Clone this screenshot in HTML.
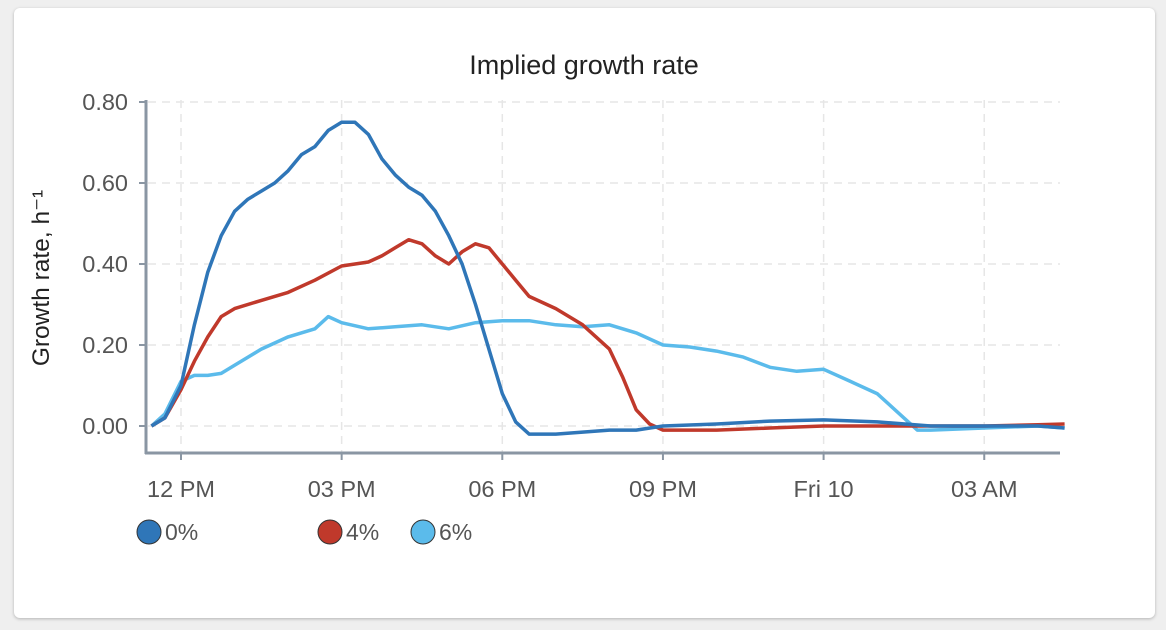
<!DOCTYPE html>
<html><head><meta charset="utf-8"><style>
html,body{margin:0;padding:0;background:#efefef;}
body{width:1166px;height:630px;position:relative;overflow:hidden;font-family:"Liberation Sans",sans-serif;}
#card{position:absolute;left:14px;top:8px;width:1141px;height:610px;background:#fff;border-radius:6px;box-shadow:0 1px 3px rgba(0,0,0,0.25);}
svg{position:absolute;left:0;top:0;}
</style></head><body>
<div id="card"></div>
<svg id="chart" width="1166" height="630"></svg>
<script>
const xTickLabels=["12 PM","03 PM","06 PM","09 PM","Fri 10","03 AM"];
const xTickHours=[0,3,6,9,12,15];
const yTicks=[0,0.2,0.4,0.6,0.8];
const seriesNames=["0%","4%","6%"];
const hours0=[-0.55,-0.3,0,0.25,0.5,0.75,1,1.25,1.5,1.75,2,2.25,2.5,2.75,3,3.25,3.5,3.75,4,4.25,4.5,4.75,5,5.25,5.5,5.75,6,6.25,6.5,7,7.5,8,8.5,9,10,11,12,13,14,15,16,16.5];
const values0=[0,0.02,0.1,0.25,0.38,0.47,0.53,0.56,0.58,0.6,0.63,0.67,0.69,0.73,0.75,0.75,0.72,0.66,0.62,0.59,0.57,0.53,0.47,0.40,0.30,0.19,0.08,0.01,-0.02,-0.02,-0.015,-0.01,-0.01,0,0.005,0.012,0.015,0.01,0,0,0,-0.005];
const hours4=[-0.55,-0.3,0,0.25,0.5,0.75,1,1.5,2,2.5,3,3.5,3.75,4,4.25,4.5,4.75,5,5.25,5.5,5.75,6,6.25,6.5,7,7.5,8,8.25,8.5,8.75,9,10,11,12,13,14,15,16,16.5];
const values4=[0,0.02,0.09,0.16,0.22,0.27,0.29,0.31,0.33,0.36,0.395,0.405,0.42,0.44,0.46,0.45,0.42,0.40,0.43,0.45,0.44,0.40,0.36,0.32,0.29,0.25,0.19,0.12,0.04,0.005,-0.01,-0.01,-0.005,0,0,0,0,0.003,0.005];
const hours6=[-0.55,-0.3,0,0.25,0.5,0.75,1,1.5,2,2.5,2.75,3,3.5,4,4.5,5,5.5,6,6.5,7,7.5,8,8.5,9,9.5,10,10.5,11,11.5,12,12.5,13,13.5,13.75,14,15,16,16.5];
const values6=[0,0.03,0.11,0.125,0.125,0.13,0.15,0.19,0.22,0.24,0.27,0.255,0.24,0.245,0.25,0.24,0.255,0.26,0.26,0.25,0.245,0.25,0.23,0.20,0.195,0.185,0.17,0.145,0.135,0.14,0.11,0.08,0.02,-0.01,-0.01,-0.005,0,-0.005];
const colors=["#2f76b8","#c0392b","#5bbbeb"];
const svg=document.getElementById('chart');
const NS="http://www.w3.org/2000/svg";
const X=h=>181+h*53.55;
const Y=v=>426-v*405;
function mk(t,a,txt){const e=document.createElementNS(NS,t);for(const k in a)e.setAttribute(k,a[k]);if(txt!==undefined)e.textContent=txt;svg.appendChild(e);return e;}
yTicks.forEach(v=>{const g=mk('line',{x1:148,x2:1060,y1:Y(v),y2:Y(v),stroke:'#e6e6e6','stroke-width':1.5,'stroke-dasharray':'8,6'});


const t=mk('text',{x:128,y:Y(v)+8,'text-anchor':'end','font-size':23.5,fill:'#555'},v.toFixed(2));

});
xTickHours.forEach((h,i)=>{const g=mk('line',{x1:X(h),x2:X(h),y1:100,y2:453,stroke:'#e6e6e6','stroke-width':1.5,'stroke-dasharray':'8,6'});


const tk=mk('line',{x1:X(h),x2:X(h),y1:453,y2:460,stroke:'#8a96a3','stroke-width':2});


const t=mk('text',{x:X(h),y:497,'text-anchor':'middle','font-size':23.5,fill:'#555'},xTickLabels[i]);

});
const ya=mk('line',{x1:146,x2:146,y1:100,y2:454,stroke:'#8a96a3','stroke-width':3});


const xa=mk('line',{x1:145,x2:1060,y1:453,y2:453,stroke:'#8a96a3','stroke-width':3});


yTicks.forEach(v=>{const tk=mk('line',{x1:139,x2:146,y1:Y(v),y2:Y(v),stroke:'#8a96a3','stroke-width':2});

});
const hs=[hours0,hours4,hours6],vs=[values0,values4,values6];
[2,1,0].forEach(s=>{const d=hs[s].map((h,i)=>(i?'L':'M')+X(h).toFixed(1)+','+Y(vs[s][i]).toFixed(1)).join(' ');
const p=mk('path',{d:d,fill:'none',stroke:colors[s],'stroke-width':3.5,'stroke-linejoin':'round'});

});
const title=mk('text',{x:584,y:74,'text-anchor':'middle','font-size':27,fill:'#222'},'Implied growth rate');


const yl=mk('text',{x:0,y:0,'text-anchor':'middle','font-size':24.5,fill:'#222',transform:'translate(49,278) rotate(-90)'},'Growth rate, h⁻¹');


const lx=[149,330,423];
seriesNames.forEach((n,i)=>{const c=mk('circle',{cx:lx[i],cy:532,r:12,fill:colors[i],stroke:'#333','stroke-width':1});


const t=mk('text',{x:lx[i]+16,y:540,'font-size':23,fill:'#555'},n);

});
</script>
</body></html>
